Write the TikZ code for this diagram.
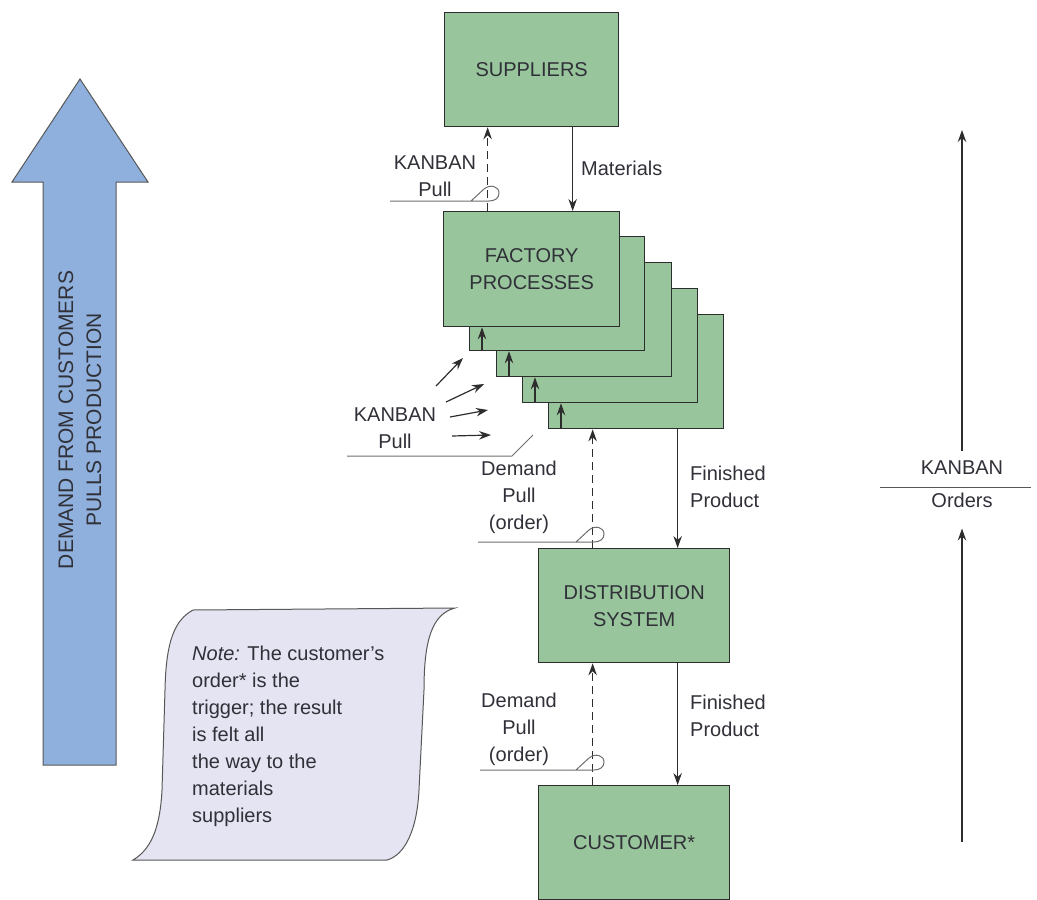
\documentclass[tikz,border=0pt]{standalone}
\usepackage{fontspec}
\setmainfont{Liberation Sans}
\usetikzlibrary{arrows.meta,calc}
\definecolor{boxgreen}{RGB}{152,197,155}
\definecolor{arrowblue}{RGB}{143,176,220}
\definecolor{notefill}{RGB}{228,228,242}
\definecolor{ink}{RGB}{45,45,45}
\definecolor{txt}{RGB}{48,48,56}
\definecolor{tiegray}{RGB}{110,110,110}

\begin{document}
\begin{tikzpicture}[x=1pt,y=-1pt,
  font=\fontsize{20}{27}\selectfont,
  stage/.style={draw=ink, line width=1.3pt, fill=boxgreen, minimum width=175pt,
    minimum height=114pt, inner sep=0pt, align=center, text=txt, anchor=north west},
  flow/.style={draw=ink, line width=1.2pt, -{Stealth[length=12pt,width=8.5pt,inset=4pt]}},
  pull/.style={flow, dash pattern=on 8pt off 5pt},
  lab/.style={text=txt, align=center, inner sep=0pt},
  tie/.style={draw=tiegray, line width=1pt},
  pics/lasso/.style={code={
    \draw[tie] (-#1,0) -- (2,0) .. controls (8,0) and (12,-3) .. (12,-8)
      .. controls (12,-15) and (3,-17) .. (-3,-12) -- (-16,0);
  }},
]
\useasboundingbox (0,0) rectangle (1037,900);

% ---- big "demand pulls production" arrow ----
\draw[draw=ink!80, line width=1pt, fill=arrowblue]
  (43,765) -- (43,182) -- (12,182) -- (80,79) -- (148,182) -- (116,182) -- (116,765) -- cycle;
\node[lab, rotate=90, font=\fontsize{21}{28}\selectfont] (demand) at (80,420) {DEMAND FROM CUSTOMERS\\PULLS PRODUCTION};

% ---- note scroll ----
\draw[draw=ink!80, line width=1pt, fill=notefill]
  (193,610) -- (455,608) .. controls (432,614) and (424,640) .. (424,690)
  -- (419,790) .. controls (417,830) and (405,855) .. (387,860)
  -- (133,860) .. controls (150,850) and (160,830) .. (162,790)
  -- (165,690) .. controls (166,640) and (175,620) .. (193,610) -- cycle;
\node[lab, align=left, anchor=north west] (note) at (192,646)
  {\textit{Note:} The customer’s\\order* is the\\trigger; the result\\is felt all\\the way to the\\materials\\suppliers};

% ---- stages ----
\node[stage, minimum width=174pt] (sup) at (444,12) {SUPPLIERS};
\node[stage] (f5) at (548,314) {};
\node[stage] (f4) at (522,288) {};
\node[stage] (f3) at (496,262) {};
\node[stage] (f2) at (469,236) {};
\node[stage, minimum width=176pt, minimum height=115pt] (fac) at (443,211) {FACTORY\\PROCESSES};
\node[stage, minimum width=191pt] (dist) at (538,548) {DISTRIBUTION\\SYSTEM};
\node[stage, minimum width=191pt] (cust) at (538,785) {CUSTOMER*};

% ---- pulls between the stacked processes ----
\draw[flow] ([xshift=13pt]f2.south west) -- ([xshift=13pt]f2.south west |- fac.south);
\draw[flow] ([xshift=13pt]f3.south west) -- ([xshift=13pt]f3.south west |- f2.south);
\draw[flow] ([xshift=13pt]f4.south west) -- ([xshift=13pt]f4.south west |- f3.south);
\draw[flow] ([xshift=13pt]f5.south west) -- ([xshift=13pt]f5.south west |- f4.south);

% ---- suppliers <-> factory ----
\draw[flow] ([xshift=41pt]sup.south) -- ([xshift=41pt]sup.south |- fac.north);
\node[lab, anchor=west] (matlab) at (581,168) {Materials};
\draw[pull] ([xshift=-44pt]fac.north) -- ([xshift=-44pt]fac.north |- sup.south);
\node[lab] (kp1) at (435,176) {KANBAN\\Pull};
\pic at (487,201) {lasso=97};

% ---- kanban pulls into the process stack ----
\node[lab] (kp2) at (395,428) {KANBAN\\Pull};
\coordinate (k1a) at (436,386); \coordinate (k1b) at (463,358);
\coordinate (k2a) at (446,402); \coordinate (k2b) at (484,384);
\coordinate (k3a) at (450,417); \coordinate (k3b) at (488,410);
\coordinate (k4a) at (452,436); \coordinate (k4b) at (491,435);
\draw[flow] (k1a) -- (k1b);
\draw[flow] (k2a) -- (k2b);
\draw[flow] (k3a) -- (k3b);
\draw[flow] (k4a) -- (k4b);
\coordinate (u1) at (347,456); \coordinate (u2) at (512,456); \coordinate (u3) at (533,435);
\draw[tie] (u1) -- (u2) -- (u3);

% ---- factory <-> distribution ----
\draw[pull] ([xshift=-41.5pt]dist.north) -- ([xshift=-41.5pt]dist.north |- f5.south);
\draw[flow] ([xshift=43.5pt]dist.north |- f5.south) -- ([xshift=43.5pt]dist.north);
\node[lab] (dp1) at (519,497) {Demand\\Pull\\(order)};
\node[lab, align=left, anchor=west] (fp1) at (690,487) {Finished\\Product};
\pic at (592,542) {lasso=114};

% ---- distribution <-> customer ----
\draw[pull] ([xshift=-41.5pt]cust.north) -- ([xshift=-41.5pt]cust.north |- dist.south);
\draw[flow] ([xshift=43.5pt]dist.south) -- ([xshift=43.5pt]dist.south |- cust.north);
\node[lab] (dp2) at (519,729) {Demand\\Pull\\(order)};
\node[lab, align=left, anchor=west] (fp2) at (690,716) {Finished\\Product};
\pic at (592,770) {lasso=112};

% ---- kanban orders axis ----
\node[lab] (ko1) at (962,468) {KANBAN};
\node[lab] (ko2) at (962,500) {Orders};
\coordinate (axtop) at (962,130);
\coordinate (axbot) at (962,842);
\coordinate (r1) at (880,487); \coordinate (r2) at (1031,487);
\draw[tie, draw=ink!80] (r1) -- (r2);
\draw[flow] ([yshift=10pt]ko1.north) -- (axtop);
\draw[flow] (axbot) -- ([yshift=-21pt]ko2.south);
\end{tikzpicture}
\end{document}
